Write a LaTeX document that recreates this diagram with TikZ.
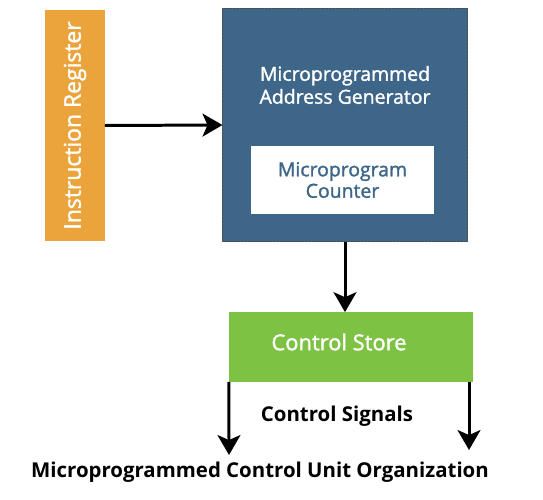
\documentclass[tikz,border=0pt]{standalone}
\usepackage{fontspec}
\setmainfont{Open Sans}
\newfontfamily\medfont{Open Sans}[RawFeature={embolden=1.5}]
\usetikzlibrary{arrows.meta}
\usetikzlibrary{positioning}
\definecolor{irorange}{HTML}{EBA43B}
\definecolor{genblue}{HTML}{3D6689}
\definecolor{storegreen}{HTML}{7DC242}
\tikzset{
    block/.style={rectangle, inner sep=0pt, outer sep=0pt},
    irbox/.style={block, fill=irorange, text=white, rotate=90,
        minimum width=231, minimum height=60, font=\medfont\fontsize{23}{26}\selectfont},
    genbox/.style={block, fill=genblue, draw=black!70, densely dotted, line width=0.4pt,
        minimum width=246, minimum height=234},
    pcbox/.style={block, fill=white, text=genblue, align=center,
        minimum width=183, minimum height=68, font=\medfont\fontsize{19.5}{21.5}\selectfont},
    storebox/.style={block, fill=storegreen, text=white,
        minimum width=245, minimum height=70},
    signal/.style={draw=black, line width=3pt,
        -{Stealth[length=20pt, width=23pt, inset=5pt]}},
}
\begin{document}
\begin{tikzpicture}[x=1bp, y=-1bp]
	\useasboundingbox (0,0) rectangle (543,500);
	\node[irbox] (ir) at (75,125.5) {Instruction Register};
	\node[genbox] (gen) at (345,125) {};
	\node[align=center, text=white, font=\medfont\fontsize{19.5}{23}\selectfont] (gentext) at (345,85)
		{Microprogrammed\\Address Generator};
	\node[pcbox] (pc) at (342.5,180) {Microprogram\\Counter};
	\node[storebox] (store) at (351,347) {};
	\node[text=white, font=\medfont\fontsize{22}{24}\selectfont] (storetext) at (339,342) {Control Store};
	%
	\coordinate (sigleft) at (229,455);
	\coordinate (sigright) at (469,450);
	\node[font=\bfseries\fontsize{20.5}{23}\selectfont] (sigtext) at (337,416) {Control Signals};
	\node[font=\bfseries\fontsize{20.5}{23}\selectfont] (title) at (260,472)
		{Microprogrammed Control Unit Organization};
	%
	\draw[signal] (ir.south) -- (gen.west);
	\draw[signal] (gen.south) -- (gen.south |- store.north);
	\draw[signal] (store.south west) -- (sigleft);
	\draw[signal] (sigright |- store.south) -- (sigright);
\end{tikzpicture}
\end{document}
